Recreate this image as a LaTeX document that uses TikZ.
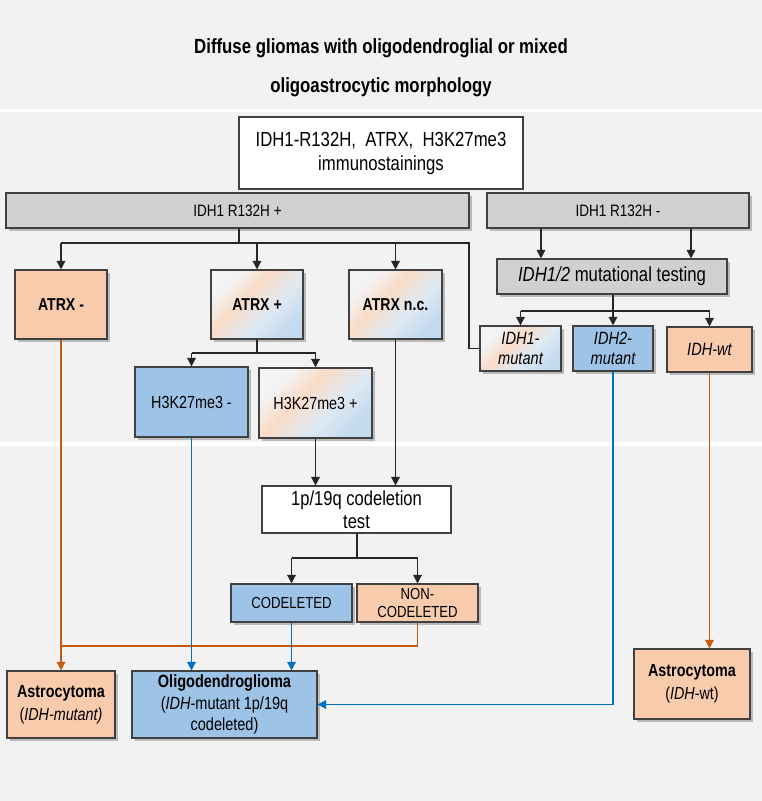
\documentclass[tikz,border=0pt]{standalone}
\usepackage{fontspec}
\setmainfont{Liberation Sans}[FakeStretch=0.82]
\usetikzlibrary{arrows.meta,shadows}
\definecolor{bgc}{HTML}{F2F2F2}
\definecolor{pch}{HTML}{F8CBAD}
\definecolor{blu}{HTML}{9DC3E6}
\definecolor{gry}{HTML}{D0D0D0}
\definecolor{edge}{HTML}{404040}
\definecolor{oline}{HTML}{C55A11}
\definecolor{bline}{HTML}{0070C0}
\definecolor{gw}{HTML}{F3F3F3}
\definecolor{lpch}{HTML}{F9DCC8}
\definecolor{lblu}{HTML}{C3DAEF}
\pgfdeclarehorizontalshading{mixgrad}{100bp}{color(0bp)=(gw); color(28bp)=(gw); color(42bp)=(lpch); color(58bp)=(gw!60!lblu); color(75bp)=(lblu); color(100bp)=(lblu)}
\tikzset{
  box/.style={draw=edge, line width=1.1pt, inner sep=0pt, align=center,
    drop shadow={shadow xshift=2.5pt, shadow yshift=-2.5pt, fill=black!60, opacity=0.4}},
  plainbox/.style={draw=edge, line width=1.1pt, inner sep=0pt, align=center, fill=white},
  peachbox/.style={box, fill=pch},
  bluebox/.style={box, fill=blu},
  graybox/.style={box, fill=gry},
  mixbox/.style={box, shade, shading=mixgrad, shading angle=-45},
  fbig/.style={font=\fontsize{20.4}{24}\selectfont},
  fbar/.style={font=\fontsize{16.5}{19}\selectfont},
  fmid/.style={font=\fontsize{17.5}{21}\selectfont},
  fbold/.style={font=\fontsize{17.2}{22}\selectfont\bfseries},
  conn/.style={line width=1.4pt, draw=black!85},
  arr/.style={conn, -{Triangle[length=8.5pt,width=8.5pt]}},
  oconn/.style={line width=1.4pt, draw=oline},
  oarr/.style={oconn, -{Triangle[length=8.5pt,width=8.5pt]}, oline},
  bconn/.style={line width=1.4pt, draw=bline},
  barr/.style={bconn, -{Triangle[length=8.5pt,width=8.5pt]}, bline},
}
\begin{document}
\begin{tikzpicture}[x=1pt,y=-1pt]
\useasboundingbox (0,0) rectangle (762,801);
\fill[bgc] (0,0) rectangle (762,801);
\fill[white] (0,109) rectangle (762,112);
\fill[white] (0,442) rectangle (762,446);

% title
\node[anchor=base, font=\fontsize{20.5}{24}\selectfont\bfseries] (t1) at (381,53) {Diffuse gliomas with oligodendroglial or mixed};
\node[anchor=base, font=\fontsize{20.5}{24}\selectfont\bfseries] (t2) at (381,92) {oligoastrocytic morphology};

% nodes
\node[plainbox, fbig, minimum width=284pt, minimum height=72pt] (top) at (381,153) {IDH1-R132H,\ \ ATRX,\ \ H3K27me3\\immunostainings};
\node[graybox, fbar, minimum width=463pt, minimum height=35pt] (idhp) at (237.5,210.5) {IDH1 R132H +};
\node[graybox, fbar, minimum width=262pt, minimum height=35pt] (idhn) at (618,210.5) {IDH1 R132H -};
\node[peachbox, fbold, minimum width=92pt, minimum height=69pt] (atrxm) at (61,304.5) {ATRX -};
\node[mixbox, fbold, minimum width=92pt, minimum height=69pt] (atrxp) at (257,304.5) {ATRX +};
\node[mixbox, fbold, minimum width=93pt, minimum height=69pt] (atrxnc) at (395.5,304.5) {ATRX n.c.};
\node[graybox, fbig, minimum width=230pt, minimum height=35pt] (test) at (612,276.5) {\textit{IDH1/2} mutational testing};
\node[mixbox, font=\fontsize{17.8}{20}\selectfont\itshape, minimum width=81pt, minimum height=45pt] (idh1m) at (520.5,348.5) {IDH1-\\mutant};
\node[bluebox, font=\fontsize{17.8}{20}\selectfont\itshape, minimum width=80pt, minimum height=45pt] (idh2m) at (613,348.5) {IDH2-\\mutant};
\node[peachbox, font=\fontsize{17.8}{20}\selectfont\itshape, minimum width=85pt, minimum height=45pt] (idhwt) at (709.5,349.5) {IDH-wt};
\node[bluebox, fmid, minimum width=113pt, minimum height=70pt] (h3m) at (191.5,402) {H3K27me3 -};
\node[mixbox, fmid, minimum width=113pt, minimum height=70pt] (h3p) at (315.5,403) {H3K27me3 +};
\node[plainbox, font=\fontsize{20.2}{23}\selectfont, minimum width=189pt, minimum height=47pt] (cod) at (356.5,509.5) {1p/19q codeletion\\test};
\node[bluebox, font=\fontsize{16}{19}\selectfont, minimum width=121pt, minimum height=38pt] (codel) at (291.5,603) {CODELETED};
\node[peachbox, font=\fontsize{16}{18.7}\selectfont, minimum width=121pt, minimum height=38pt] (noncod) at (417.5,603) {NON-\\CODELETED};
\node[peachbox, font=\fontsize{17.5}{23}\selectfont, minimum width=108pt, minimum height=67pt] (astro1) at (61,704.5) {\textbf{Astrocytoma}\\(\textit{IDH-mutant)}};
\node[bluebox, font=\fontsize{17.7}{21.5}\selectfont, minimum width=185pt, minimum height=67pt] (oligo) at (224.5,704.5) {\textbf{Oligodendroglioma}\\(\textit{IDH}-mutant 1p/19q\\codeleted)};
\node[peachbox, font=\fontsize{17.5}{23}\selectfont, minimum width=116pt, minimum height=70pt] (astro2) at (692,684) {\textbf{Astrocytoma}\\(\textit{IDH}-wt)};

% IDH1 R132H + branches
\coordinate (b1) at (239,243);
\coordinate (j1) at (469,243);
\draw[conn] (idhp.south -| b1) -- (b1);
\draw[conn] (atrxm.north |- b1) -- (j1) |- (idh1m.west);
\draw[arr] (atrxm.north |- b1) -- (atrxm.north);
\draw[arr] (atrxp.north |- b1) -- (atrxp.north);
\draw[arr] (atrxnc.north |- b1) -- (atrxnc.north);

% IDH1 R132H - branches
\coordinate (c1) at (541,0);
\coordinate (c2) at (691,0);
\draw[arr] (idhn.south -| c1) -- (test.north -| c1);
\draw[arr] (idhn.south -| c2) -- (test.north -| c2);
\coordinate (b2) at (613,311);
\draw[conn] (test.south -| b2) -- (b2);
\draw[conn] (idh1m.north |- b2) -- (idhwt.north |- b2);
\draw[arr] (idh1m.north |- b2) -- (idh1m.north);
\draw[arr] (idh2m.north |- b2) -- (idh2m.north);
\draw[arr] (idhwt.north |- b2) -- (idhwt.north);

% ATRX + branches
\coordinate (b3) at (257,353);
\draw[conn] (atrxp.south) -- (b3);
\draw[conn] (h3m.north |- b3) -- (h3p.north |- b3);
\draw[arr] (h3m.north |- b3) -- (h3m.north);
\draw[arr] (h3p.north |- b3) -- (h3p.north);

% to codeletion test
\draw[arr] (h3p.south) -- (h3p.south |- cod.north);
\draw[arr] (atrxnc.south) -- (atrxnc.south |- cod.north);

% codeletion branches
\coordinate (b4) at (357,558);
\draw[conn] (cod.south -| b4) -- (b4);
\draw[conn] (codel.north |- b4) -- (noncod.north |- b4);
\draw[arr] (codel.north |- b4) -- (codel.north);
\draw[arr] (noncod.north |- b4) -- (noncod.north);

% orange connectors
\coordinate (b5) at (0,646);
\draw[oarr] (atrxm.south) -- (astro1.north);
\draw[oconn] (noncod.south) |- (b5 -| atrxm.south);
\draw[oarr] (idhwt.south) -- (idhwt.south |- astro2.north);

% blue connectors
\draw[barr] (h3m.south) -- (h3m.south |- oligo.north);
\draw[barr] (codel.south) -- (codel.south |- oligo.north);
\draw[barr] (idh2m.south) |- (oligo.east);
\end{tikzpicture}
\end{document}
